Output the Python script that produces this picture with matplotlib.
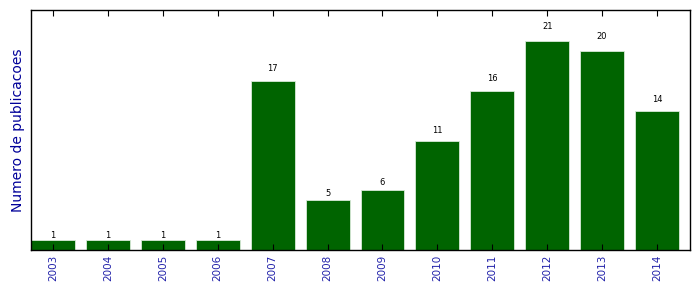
import numpy as np
import matplotlib.pyplot as plt

anos = ['2003', '2004', '2005', '2006', '2007', '2008', '2009', '2010', '2011', '2012', '2013', '2014']
publicacoes = [1, 1, 1, 1, 17, 5, 6, 11, 16, 21, 20, 14]

fig = plt.figure(figsize=(6.99, 2.92), dpi=100)
ax = fig.add_axes([31/699, 42/292, 659/699, 240/292])

ind = np.arange(len(anos))
largura = 0.8
barras = ax.bar(ind, publicacoes, largura, align='edge', color='#006400', edgecolor='#d8ead8', linewidth=0.6)

for b in barras:
    h = b.get_height()
    ax.text(b.get_x() + b.get_width()/2., 1.05*h, '%d' % int(h), ha='center', va='bottom', fontsize=6)

ax.set_xlim(0, len(anos))
ax.set_ylim(0, max(publicacoes)*1.15)
ax.set_xticks(ind + largura/2)
ax.set_xticklabels(anos, rotation=90, color='#2222aa', fontsize=7.5)
ax.set_yticks([])
ax.set_ylabel('Numero de publicacoes', color='#000099', fontsize=10)
ax.tick_params(axis='x', direction='in', top=True, length=4, width=0.8)
for s in ax.spines.values():
    s.set_linewidth(1.0)

fig.savefig('out.png', dpi=100)
